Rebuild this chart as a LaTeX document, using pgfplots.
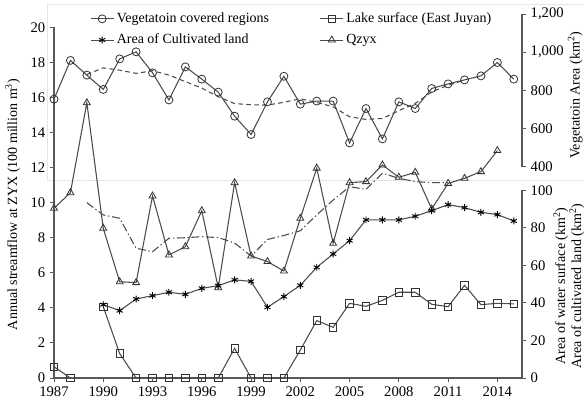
\documentclass[border=0pt]{standalone}
\usepackage{fontspec}
\setmainfont{Liberation Serif}
\usepackage{pgfplots}
\pgfplotsset{compat=1.18}

\definecolor{ln}{gray}{0.30}
\definecolor{ax}{gray}{0.35}

\pgfplotsset{
  base/.style={
    scale only axis, width=351pt, height=273pt,
    xmin=1987, xmax=2015.5, clip=false,
    axis line style={draw=none},
    tick align=outside,
    major tick length=3pt,
    tick style={ax, line width=0.7pt},
    ticklabel style={font=\fontsize{11}{13}\selectfont},
    /pgf/number format/assume math mode=true,
  },
  ser/.style={ln, line width=0.8pt,
    mark options={solid, fill=white, draw=black!80, line width=0.6pt}},
}

\begin{document}
\begin{tikzpicture}
\useasboundingbox (-40.5pt,-20.25pt) rectangle (397.5pt,283.5pt);

% faint frame of the upper chart area
\draw[black!10, line width=0.5pt] (-5.25pt,148.5pt) -- (-5.25pt,280.5pt) -- (396.75pt,280.5pt);
\draw[black!10, line width=0.5pt] (-5.25pt,148.5pt) -- (396.75pt,148.5pt);

% left axis: streamflow (Qzyx)
\begin{axis}[base,
  axis x line*=bottom, axis y line*=left,
  ymin=0, ymax=20.76,
  ytick={0,2,...,20},
  xtick={1987,1990,...,2014},
  x tick label style={/pgf/number format/1000 sep={}},
]
\draw[ax, line width=0.9pt] (axis cs:1987,20) -- (axis cs:1987,0) -- (axis cs:2015.5,0);
\addplot[ser, mark=triangle, mark size=3pt] coordinates {
  (1987,9.68) (1988,10.57) (1989,15.70) (1990,8.54) (1991,5.49) (1992,5.44)
  (1993,10.38) (1994,7.02) (1995,7.49) (1996,9.54) (1997,5.15) (1998,11.14)
  (1999,6.96) (2000,6.64) (2001,6.10) (2002,9.11) (2003,11.97) (2004,7.68)
  (2005,11.14) (2006,11.20) (2007,12.15) (2008,11.45) (2009,11.73) (2010,9.64)
  (2011,11.10) (2012,11.39) (2013,11.77) (2014,12.97)
};
% trend of Qzyx
\addplot[ln, line width=0.8pt, dash pattern=on 6pt off 2pt on 1pt off 2pt] coordinates {
  (1989,10.0) (1990,9.3) (1991,9.11) (1992,7.4) (1993,7.2) (1994,7.97)
  (1995,8.0) (1996,8.06) (1997,8.01) (1998,7.7) (1999,6.96) (2000,7.9)
  (2001,8.13) (2002,8.4) (2003,9.3) (2004,10.15) (2005,10.91) (2006,10.76)
  (2007,11.68) (2008,11.39) (2009,11.2) (2010,11.14) (2011,11.14)
};
\node[rotate=90, font=\fontsize{10.5}{12}\selectfont] at ([xshift=-31pt]axis cs:1987,9.9)
  {Annual streamflow at ZYX (100 million m\textsuperscript{3})};
\end{axis}

% upper right axis: vegetation area
\begin{axis}[base,
  axis x line=none, axis y line*=right,
  ymin=-706, ymax=1200,
  ytick={400,600,...,1200},
  y tick label style={/pgf/number format/1000 sep={,}},
]
\draw[ax, line width=0.9pt] (axis cs:2015.5,400) -- (axis cs:2015.5,1200);
\addplot[ln, line width=0.8pt, dashed, dash pattern=on 3.5pt off 2.5pt] coordinates {
  (1989,883) (1990,918) (1991,906) (1992,889) (1993,903) (1994,880) (1995,846)
  (1996,812) (1997,767) (1998,731) (1999,725) (2000,723) (2001,738) (2002,756)
  (2003,737) (2004,714) (2005,662) (2006,648) (2007,653) (2008,694) (2009,732)
  (2010,792) (2011,827) (2012,854)
};
\addplot[ser, mark=o, mark size=3pt] coordinates {
  (1987,754) (1988,957) (1989,880) (1990,805) (1991,965) (1992,1002)
  (1993,892) (1994,750) (1995,923) (1996,859) (1997,791) (1998,665)
  (1999,569) (2000,740) (2001,874) (2002,728) (2003,744) (2004,744)
  (2005,525) (2006,705) (2007,546) (2008,740) (2009,705) (2010,810)
  (2011,834) (2012,855) (2013,876) (2014,946) (2015,859)
};
\node[rotate=90, font=\fontsize{10.5}{12}\selectfont] at ([xshift=40pt]axis cs:2015.5,775)
  {Vegetatoin Area (km\textsuperscript{2})};
\end{axis}

% lower right axis: water surface and cultivated land
\begin{axis}[base,
  axis x line=none, axis y line*=right,
  ymin=0, ymax=194,
  ytick={0,20,...,100},
  unbounded coords=jump,
  legend columns=2,
  legend cell align=left,
  legend style={at={(rel axis cs:0,1)}, anchor=north west, xshift=24pt, yshift=5pt,
    draw=none, fill=none, font=\fontsize{10.5}{12}\selectfont, row sep=3pt,
    /tikz/every even column/.append style={column sep=36pt}},
]
\draw[ax, line width=0.9pt] (axis cs:2015.5,0) -- (axis cs:2015.5,100);
\addplot[ser, mark=square, mark size=2.8pt, forget plot] coordinates {
  (1987,6.0) (1988,0) (1989,nan) (1990,38.0) (1991,13.0) (1992,0) (1993,0)
  (1994,0) (1995,0) (1996,0) (1997,0) (1998,15.8) (1999,0) (2000,0) (2001,0)
  (2002,14.9) (2003,30.6) (2004,27.0) (2005,39.8) (2006,38.2) (2007,41.4)
  (2008,45.7) (2009,45.7) (2010,39.3) (2011,38.0) (2012,49.4) (2013,39.1)
  (2014,39.8) (2015,39.5)
};
\addplot[ser, mark=asterisk, mark size=2.6pt, mark options={solid, draw=black, line width=0.7pt}, forget plot] coordinates {
  (1990,39.1) (1991,35.9) (1992,42.1) (1993,43.9) (1994,45.7) (1995,44.6)
  (1996,47.8) (1997,49.2) (1998,52.3) (1999,51.5) (2000,37.7) (2001,43.4)
  (2002,49.4) (2003,59.0) (2004,66.1) (2005,73.2) (2006,84.3) (2007,84.3)
  (2008,84.3) (2009,86.2) (2010,89.2) (2011,92.4) (2012,90.8) (2013,88.3)
  (2014,87.1) (2015,83.7)
};
\node[rotate=90, align=center, font=\fontsize{10.5}{12}\selectfont] at ([xshift=35pt]axis cs:2015.5,49)
  {Area of water surface (km\textsuperscript{2})\\Area of cultivated land (km\textsuperscript{2})};
\addlegendimage{ser, mark=o, mark size=3pt}
\addlegendentry{Vegetatoin covered regions}
\addlegendimage{ser, mark=square, mark size=2.8pt}
\addlegendentry{Lake surface (East Juyan)}
\addlegendimage{ser, mark=asterisk, mark size=2.6pt, mark options={solid, draw=black, line width=0.7pt}}
\addlegendentry{Area of Cultivated land}
\addlegendimage{ser, mark=triangle, mark size=3pt}
\addlegendentry{Qzyx}
\end{axis}
\end{tikzpicture}
\end{document}
